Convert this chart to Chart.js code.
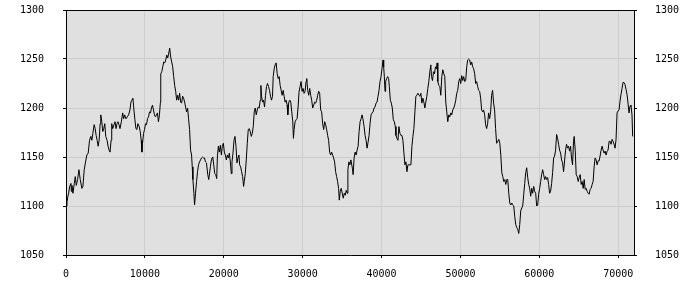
<!DOCTYPE html>
<html>
<head>
<meta charset="utf-8">
<script src="https://cdn.jsdelivr.net/npm/chart.js@4.4.0/dist/chart.umd.min.js"></script>
<style>
  body { margin: 0; background: #fff; }
  canvas { display: block; }
</style>
</head>
<body>
<canvas id="myChart" width="700" height="300"></canvas>
<script>
// valores
var posicoes = [
  0,126,210,336,462,630,672,756,882,1050,1176,1302,1470,1638,1722,1806,2016,2142,2310,2478,
  2646,2814,2982,3150,3276,3402,3570,3696,3822,3948,4074,4200,4326,4410,4536,4662,4788,4914,5040,5208,
  5334,5460,5586,5712,5796,5922,6090,6216,6342,6468,6594,6720,6846,7014,7182,7308,7434,7602,7770,7938,
  8106,8232,8358,8484,8610,8736,8862,8988,9114,9282,9408,9534,9618,9702,9828,9954,10080,10206,10332,10458,
  10584,10710,10836,10962,11088,11214,11340,11466,11592,11718,11844,11970,12012,12138,12264,12390,12516,12642,12768,12894,
  13020,13146,13272,13398,13524,13650,13776,13902,14028,14154,14280,14406,14532,14658,14784,14910,15036,15162,15288,15414,
  15540,15666,15792,15918,16002,16086,16212,16296,16422,16548,16674,16800,16926,17052,17178,17304,17430,17556,17682,17808,
  17968,18094,18305,18389,18515,18600,18726,18852,18978,19105,19189,19315,19442,19568,19694,19820,19947,20073,20199,20326,
  20452,20578,20705,20831,20957,21041,21168,21294,21420,21547,21673,21799,21925,22010,22136,22262,22389,22515,22599,22725,
  22852,22978,23104,23231,23357,23483,23609,23736,23862,23988,24115,24241,24367,24494,24620,24704,24788,24915,25041,25167,
  25293,25420,25546,25672,25799,25925,26051,26178,26262,26388,26514,26641,26767,26893,27020,27146,27272,27398,27525,27651,
  27777,27904,28030,28114,28240,28367,28493,28619,28746,28830,28914,29040,29167,29293,29419,29546,29672,29798,29924,30051,
  30177,30303,30430,30514,30640,30766,30893,31019,31145,31272,31398,31524,31651,31777,31903,32029,32156,32282,32408,32535,
  32661,32787,32914,33040,33166,33292,33419,33545,33671,33798,33924,34050,34177,34303,34429,34555,34640,34766,34892,35018,
  35145,35271,35397,35524,35650,35734,35860,35987,36113,
  36311,36395,36522,36648,36774,36901,37027,37153,37280,37406,37532,37658,37785,37911,38037,38164,38290,38416,38543,38669,
  38795,38922,39048,39174,39300,39427,39553,39679,39806,39932,40058,40184,40269,40353,40437,40521,40648,40774,40900,40984,
  41111,41237,41363,41490,41616,41742,41826,41953,42079,42205,42332,42458,42584,42710,42837,42963,43089,43216,43342,43468,
  43595,43721,43847,43974,44100,44226,44352,44479,44605,44731,44858,44984,45110,45237,45363,45489,45615,45742,45868,45994,
  46121,46247,46331,46457,46584,46710,46836,46963,47047,47131,47257,47384,47510,47636,47762,47889,48015,48141,48268,48394,
  48520,48647,48773,48899,49025,49152,49278,49404,49531,49657,49783,49910,50036,50162,50288,50415,50541,50667,50794,50920,
  51046,51172,51299,51425,51551,51677,51804,51930,52056,52183,52309,52435,52562,52688,52814,52940,53067,53193,53319,53446,
  53572,53698,53825,53951,54077,54204,54330,54456,54583,
  54737,54864,54990,55116,55242,55369,55495,55621,55748,55874,56000,56127,56253,56379,56505,56632,56758,56884,57011,57137,
  57263,57390,57516,57642,57768,57895,58021,58147,58274,58400,58526,58653,58779,58905,59031,59158,59284,59410,59537,59663,
  59789,59916,60042,60168,60294,60421,60547,60673,60800,60926,61052,61179,61305,61431,61557,61684,61810,61936,62063,62189,
  62315,62442,62568,62694,62820,62947,63073,63199,63326,63452,63578,63705,63831,63957,64083,64210,64336,64420,64547,64673,
  64799,64925,65052,65178,65304,65431,65557,65683,65810,65936,66062,66188,66315,66441,66567,66694,66820,66946,67072,67199,
  67325,67451,67578,67704,67830,67957,68083,68209,68336,68462,68588,68714,68841,68967,69093,69220,69346,69472,69599,69725,
  69851,69977,70104,70230,70356,70483,70609,70735,70861,70988,71114,71240,71367,71493,71619,71746,71830
]
var valores = [
  1100,1104,1109,1113,1120,1123,1115,1121,1113,1123,1130,1121,1127,1137,1132,1127,1118,1120,1137,1145,
  1152,1154,1167,1171,1167,1174,1183,1179,1172,1167,1161,1167,1184,1193,1186,1176,1179,1184,1171,1167,
  1161,1157,1155,1167,1184,1179,1183,1186,1179,1184,1186,1183,1179,1186,1195,1189,1193,1189,1191,1193,
  1198,1206,1208,1210,1198,1188,1179,1178,1184,1181,1176,1167,1155,1164,1174,1178,1184,1183,1189,1191,
  1196,1195,1200,1203,1198,1193,1191,1193,1195,1186,1193,1206,1235,1237,1242,1247,1246,1249,1254,1251,
  1256,1261,1252,1247,1242,1232,1223,1217,1208,1213,1208,1215,1206,1205,1212,1210,1206,1201,1196,1200,
  1189,1178,1157,1152,1140,1127,1113,1101,1113,1125,1135,1142,1145,1147,1149,1150,1149,1149,1145,1144,
  1132,1127,1140,1145,1149,1150,1142,1133,1132,1128,1150,1161,1155,1162,1152,1161,1164,1155,1152,1147,
  1152,1149,1154,1145,1133,1145,1154,1167,1171,1161,1144,1149,1152,1142,1140,1135,1130,1120,1125,1133,
  1147,1164,1178,1179,1176,1171,1174,1181,1196,1200,1193,1198,1201,1200,1208,1223,1212,1206,1208,1201,
  1213,1222,1225,1222,1218,1212,1208,1212,1232,1240,1244,1246,1235,1230,1232,1223,1218,1213,1218,1212,
  1206,1208,1203,1193,1206,1208,1206,1196,1186,1169,1178,1186,1188,1189,1201,1217,1222,1227,1217,1220,
  1215,1217,1227,1230,1218,1213,1220,1213,1208,1200,1203,1206,1205,1208,1213,1217,1215,1198,1196,1184,
  1178,1186,1183,1178,1172,1167,1155,1152,1155,1152,1149,1145,1135,1130,1125,1118,1106,1115,1118,1113,
  1108,1113,1111,1116,1113,1137,1145,1142,1147,
  1138,1132,1149,1155,1152,1157,1161,1176,1186,1189,1193,1188,1181,1172,1167,1159,1165,1172,1184,1193,
  1195,1196,1200,1201,1205,1206,1212,1218,1227,1232,1240,1249,1242,1232,1217,1227,1230,1232,1230,1222,
  1208,1205,1200,1188,1186,1181,1172,1169,1167,1181,1174,1172,1172,1167,1154,1142,1145,1135,1142,1142,
  1142,1142,1161,1171,1179,1196,1212,1213,1215,1213,1212,1215,1205,1210,1206,1200,1206,1212,1220,1227,
  1237,1244,1232,1228,1237,1235,1242,1240,1246,1227,1223,1222,1213,1232,1239,1235,1232,1206,1196,1186,
  1193,1191,1195,1193,1198,1200,1203,1208,1215,1218,1227,1230,1225,1233,1228,1232,1227,1228,1242,1249,
  1250,1249,1244,1247,1242,1240,1235,1225,1227,1222,1218,1217,1210,1198,1196,1198,1193,1183,1179,1184,
  1195,1189,1196,1213,1218,1205,1198,1179,1164,
  1166,1168,1164,1152,1134,1130,1125,1127,1122,1127,1127,1113,1103,1101,1103,1101,1100,1089,1081,1078,
  1076,1072,1081,1095,1098,1100,1112,1123,1134,1139,1129,1122,1118,1110,1118,1113,1120,1115,1113,1100,
  1101,1112,1118,1125,1132,1137,1132,1127,1130,1127,1129,1122,1113,1115,1123,1134,1149,1151,1157,1173,
  1169,1163,1157,1154,1147,1144,1135,1146,1157,1163,1159,1161,1156,1161,1149,1142,1166,1171,1157,1132,
  1130,1125,1129,1132,1122,1125,1118,1127,1117,1118,1115,1113,1112,1117,1118,1122,1125,1140,1149,1147,
  1142,1146,1146,1151,1157,1161,1157,1154,1156,1152,1156,1157,1166,1166,1163,1168,1166,1163,1159,1168,
  1195,1197,1198,1207,1214,1220,1226,1226,1224,1219,1214,1205,1195,1202,1203,1193,1171
]
var xTicks = [0, 10000, 20000, 30000, 40000, 50000, 60000, 70000]
var yTicks = [1050, 1100, 1150, 1200, 1250, 1300]
var xMin = 0
var xMax = 72000
var yMin = 1050
var yMax = 1300

var pontos = []
for (var i = 0; i < posicoes.length; i++) {
    pontos.push({ x: posicoes[i], y: valores[i] })
}

var fonte = { family: 'DejaVu Sans Mono', size: 10 }

// fundo cinza da area do grafico e borda de cima
var fundo = {
    id: 'fundo',
    beforeDraw: function (chart) {
        var a = chart.chartArea
        var c = chart.ctx
        c.save()
        c.fillStyle = '#e0e0e0'
        c.fillRect(a.left, a.top, a.right - a.left, a.bottom - a.top)
        c.restore()
    },
    afterDraw: function (chart) {
        var a = chart.chartArea
        var c = chart.ctx
        c.save()
        c.strokeStyle = '#000'
        c.lineWidth = 1
        c.beginPath()
        c.moveTo(a.left, Math.round(a.top) + 0.5)
        c.lineTo(a.right, Math.round(a.top) + 0.5)
        c.stroke()
        c.restore()
    }
}

function marcas(lista) {
    return function (s) {
        s.ticks = lista.map(function (v) { return { value: v } })
    }
}

function eixoY(posicao, pad) {
    return {
        type: 'linear',
        position: posicao,
        min: yMin,
        max: yMax,
        afterBuildTicks: marcas(yTicks),
        ticks: {
            padding: pad,
            color: '#000',
            font: fonte,
            callback: function (v) { return String(v) }
        },
        grid: {
            color: '#cdcdcd',
            tickColor: '#000',
            tickLength: 3,
            drawOnChartArea: posicao == 'left'
        },
        border: { color: '#000' },
        afterFit: function (s) {
            s.width = 66
            s.paddingTop = 0
            s.paddingBottom = 0
        }
    }
}

const ctx = document.getElementById('myChart');
new Chart(ctx, {
    type: 'line',
    data: {
        datasets: [{
            data: pontos,
            borderColor: '#000',
            borderWidth: 1,
            pointRadius: 0,
            tension: 0,
            fill: false
        }]
    },
    options: {
        responsive: false,
        animation: false,
        layout: { padding: { top: 10, left: 0, right: 0, bottom: 0 }, autoPadding: false },
        plugins: {
            legend: { display: false },
            tooltip: { enabled: false }
        },
        scales: {
            x: {
                type: 'linear',
                min: xMin,
                max: xMax,
                afterBuildTicks: marcas(xTicks),
                ticks: {
                    padding: 10,
                    color: '#000',
                    font: fonte,
                    maxRotation: 0,
                    autoSkip: false,
                    callback: function (v) { return String(v) }
                },
                grid: { color: '#cdcdcd', tickColor: '#000', tickLength: 3 },
                border: { color: '#000' },
                afterFit: function (s) {
                    s.height = 45
                    s.paddingLeft = 0
                    s.paddingRight = 0
                }
            },
            y: eixoY('left', 19),
            y2: eixoY('right', 18)
        }
    },
    plugins: [fundo]
})
</script>
</body>
</html>
